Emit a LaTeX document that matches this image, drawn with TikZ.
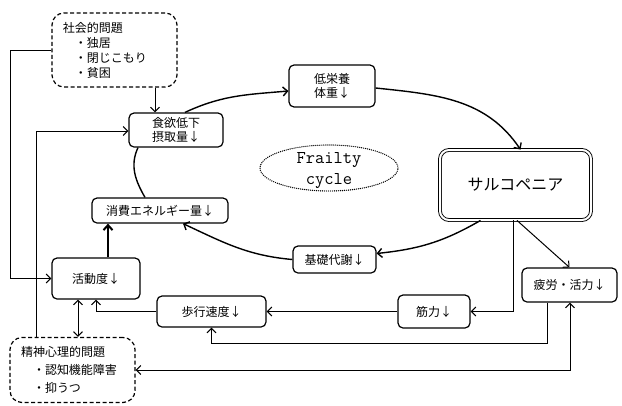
\documentclass[tikz,border=0pt]{standalone}
\usepackage{fontspec}
\setmainfont{Noto Sans CJK JP}
\usetikzlibrary{arrows.meta,calc}
\begin{document}
\begin{tikzpicture}[x=1pt,y=-1pt,
  >={Straight Barb[length=4.5pt,width=9pt]},
  box/.style={draw, rounded corners=5pt, line width=1.2pt, align=center, inner sep=0pt,
    font=\fontsize{12}{14}\selectfont},
  dbox/.style={draw, rounded corners=12pt, line width=1.2pt, dash pattern=on 4pt off 2.5pt,
    inner sep=0pt, align=left, text width=103pt, minimum width=125pt},
  conn/.style={line width=1pt, ->},
  conn2/.style={line width=1pt, <->},
  arcline/.style={line width=1.4pt},
  arc/.style={arcline, ->},
  dotline/.style={line width=1.4pt, line cap=round, dash pattern=on 0pt off 2pt}
]
\useasboundingbox (0,0) rectangle (622,405);

% nodes
\node[dbox, minimum height=74pt, font=\fontsize{12}{15}\selectfont] (social) at (114.5,50)
  {社会的問題\\\hspace*{1em}・独居\\\hspace*{1em}・閉じこもり\\\hspace*{1em}・貧困};
\node[box, minimum width=94pt, minimum height=34pt] (shokuyoku) at (176,130) {食欲低下\\摂取量↓};
\node[box, minimum width=86pt, minimum height=42pt] (teieiyo) at (332,86) {低栄養\\体重↓};
\node[draw, double, double distance=2pt, line width=0.9pt, rounded corners=9pt,
  minimum width=151pt, minimum height=70pt, inner sep=0pt,
  font=\fontsize{16}{18}\selectfont] (sarc) at (515.5,185) {サルコペニア};
\node[box, minimum width=136pt, minimum height=25pt] (shohi) at (160,210.5) {消費エネルギー量↓};
\node[box, minimum width=83pt, minimum height=27pt] (kiso) at (334.5,259.5) {基礎代謝↓};
\node[box, minimum width=88pt, minimum height=41pt] (katsudo) at (96,278.5) {活動度↓};
\node[box, minimum width=109pt, minimum height=31pt] (hoko) at (211.5,311.5) {歩行速度↓};
\node[box, minimum width=72pt, minimum height=33pt] (kinryoku) at (434,311.5) {筋力↓};
\node[box, minimum width=95pt, minimum height=34pt] (hiro) at (569.5,285) {疲労・活力↓};
\node[dbox, minimum height=65pt, font=\fontsize{12}{18}\selectfont] (seishin) at (72.5,370)
  {精神心理的問題\\\hspace*{1em}・認知機能障害\\\hspace*{1em}・抑うつ};
\node[align=center, inner sep=0pt, font=\ttfamily\fontsize{18}{21}\selectfont] (frailty) at (329,171) {Frailty\\cycle};
\draw[dotline] (329,168) ellipse [x radius=69pt, y radius=23pt];

% helper x-positions
\coordinate (x10) at (10,0);
\coordinate (x36) at (36,0);
\coordinate (x78) at (78,0);
\coordinate (x108) at (108,0);
\coordinate (x155) at (155,0);
\coordinate (x513) at (513,0);
\coordinate (x517) at (517,0);
\coordinate (x547) at (547,0);
\coordinate (x570) at (570,0);
\coordinate (y343) at (0,343);

% frailty cycle arcs
\draw[arc] ($(shokuyoku.north)+(9,0)$) to[out=25,in=185] ($(teieiyo.west)+(0,5)$);
\draw[arc] ($(teieiyo.east)+(0,2)$) to[out=-6,in=124] ($(sarc.north)+(5,0)$);
\draw[arc] ($(sarc.south)+(-35,0)$) to[out=210,in=6] ($(kiso.east)+(0,-6)$);
\draw[arc] (kiso.west) to[out=175,in=-25] ($(shohi.south)+(23,0)$);
\draw[arcline] ($(shohi.north)+(-15,0)$) to[out=120,in=245] ($(shokuyoku.south)+(-38,0)$);

% other connectors
\draw[conn] (social.south -| x155) -- (shokuyoku.north -| x155);
\draw[conn] (social.west) -- (social.west -| x10) |- (katsudo.west);
\draw[conn] (seishin.north -| x36) |- ($(shokuyoku.west)+(0,1)$);
\draw[line width=2pt, -{Straight Barb[length=5pt,width=9pt]}] (katsudo.north -| x108) -- (shohi.south -| x108);
\draw[conn2] (katsudo.south -| x78) -- (seishin.north -| x78);
\draw[conn] (hoko.west) -| (katsudo.south);
\draw[conn] (kinryoku.west) -- (hoko.east);
\draw[conn] (sarc.south -| x513) |- (kinryoku.east);
\draw[conn] (sarc.south -| x517) -- (hiro.north);
\draw[conn] (hiro.south -| x547) -- (x547 |- y343) -| (hoko.south);
\draw[conn2] (seishin.east) -| (hiro.south -| x570);
\end{tikzpicture}
\end{document}
